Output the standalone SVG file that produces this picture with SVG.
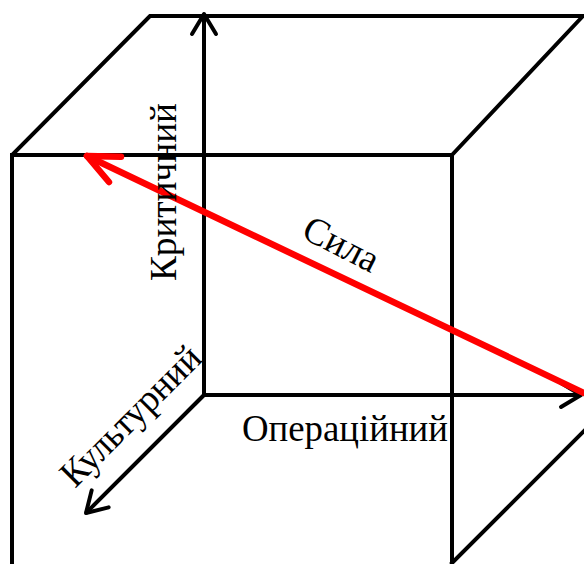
<svg xmlns="http://www.w3.org/2000/svg" width="584" height="564" viewBox="0 0 584 564">
<style>
.edge{stroke:#000;stroke-width:4;fill:none;stroke-linecap:square}
.axis{stroke:#000;stroke-width:4;fill:none}
.force{stroke:#ff0000;stroke-width:6.5;fill:none;stroke-linecap:round}
.lbl{font-family:"Liberation Serif","Times New Roman",serif;font-size:38px;fill:#000}
</style>
<defs>
<marker id="arrB" markerUnits="userSpaceOnUse" markerWidth="40" markerHeight="40" viewBox="-25 -20 30 40" refX="0" refY="0" orient="auto" overflow="visible">
<path d="M -20 -12 L 0 0 L -20 12" stroke="#000" stroke-width="4" fill="none" stroke-linecap="round" stroke-linejoin="round"/>
</marker>
<marker id="arrR" markerUnits="userSpaceOnUse" markerWidth="50" markerHeight="50" viewBox="-35 -25 40 50" refX="0" refY="0" orient="auto" overflow="visible">
<path d="M -31 -14 L 0 0 L -31 14" stroke="#ff0000" stroke-width="6.5" fill="none" stroke-linecap="round" stroke-linejoin="round"/>
</marker>
</defs>
<rect width="584" height="564" fill="#fff"/>
<g id="cube">
<path class="edge" d="M12 564 V155 L150 16 H583 L452 155 V564"/>
<path class="edge" d="M12 155 H452"/>
<path class="edge" d="M452 563 L584 431"/>
</g>
<g id="connectors">
<path class="axis" d="M204 395 V14" marker-end="url(#arrB)"/>
<path class="axis" d="M204 395 H581" marker-end="url(#arrB)"/>
<path class="axis" d="M204 395 L86 513" marker-end="url(#arrB)"/>
<path class="force" d="M584 393 L87 156" marker-end="url(#arrR)"/>
</g>
<g id="label-critical"><text class="lbl" transform="translate(176,281) rotate(-90)" textLength="178" lengthAdjust="spacingAndGlyphs">Критичний</text></g>
<g id="label-operational"><text class="lbl" x="242" y="441" textLength="206" lengthAdjust="spacingAndGlyphs">Операційний</text></g>
<g id="label-cultural"><text class="lbl" transform="translate(75,489) rotate(-45)" textLength="182" lengthAdjust="spacingAndGlyphs">Культурний</text></g>
<g id="label-force"><text class="lbl" transform="translate(300,237) rotate(27)" textLength="80" lengthAdjust="spacingAndGlyphs">Сила</text></g>
</svg>
